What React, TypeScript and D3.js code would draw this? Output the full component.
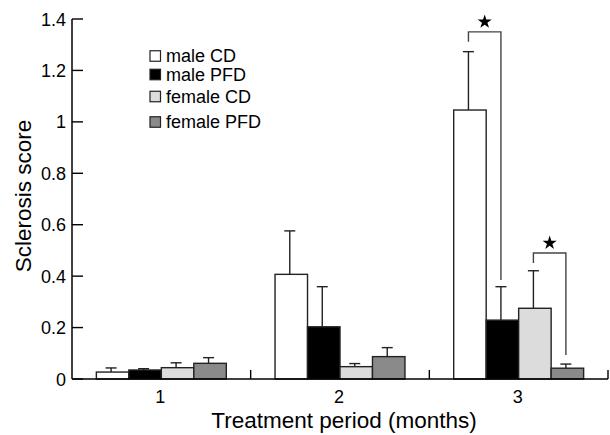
import React from "react";
import * as d3 from "d3";

const periods = ["1", "2", "3"];
const seriesNames = ["male CD", "male PFD", "female CD", "female PFD"];
const seriesColors = ["#ffffff", "#000000", "#dcdcdc", "#8a8a8a"];
// values[series][period]
const means = [
  [0.027, 0.407, 1.046],
  [0.035, 0.203, 0.229],
  [0.044, 0.048, 0.275],
  [0.061, 0.087, 0.042],
];
const errTops = [
  [0.043, 0.576, 1.273],
  [0.04, 0.359, 0.359],
  [0.063, 0.06, 0.421],
  [0.083, 0.122, 0.058],
];
const yTicks = [0, 0.2, 0.4, 0.6, 0.8, 1, 1.2, 1.4];
const yTickLabels = ["0", "0.2", "0.4", "0.6", "0.8", "1", "1.2", "1.4"];
// significance brackets: period, series a, series b, top value, left leg end, right leg end
const brackets = [
  { period: "3", a: 0, b: 1, top: 1.35, leftEnd: 1.312, rightEnd: 0.385 },
  { period: "3", a: 2, b: 3, top: 0.49, leftEnd: 0.451, rightEnd: 0.093 },
];

export default function App() {
  const W = 610;
  const H = 435;
  const x0 = 72;
  const x1 = 608;
  const yBase = 379;
  const yTop = 19;
  const font = "'Liberation Sans', Arial, Helvetica, sans-serif";

  const xg = d3.scaleBand<string>().domain(periods).range([x0, x1]).paddingInner(0).paddingOuter(0);
  const xs = d3
    .scaleBand<number>()
    .domain(d3.range(seriesNames.length))
    .range([0, xg.bandwidth()])
    .paddingInner(0)
    .paddingOuter(0.75);
  const y = d3.scaleLinear().domain([0, 1.4]).range([yBase, yTop]);

  const bw = xs.bandwidth();
  const legendY = [56, 74.5, 96.5, 122];
  const star = d3.symbol().type(d3.symbolStar).size(62)() as string;

  return (
    <svg width={W} height={H} style={{ position: "absolute", left: 0, top: 0 }} fontFamily={font}>
      <rect width={W} height={H} fill="#fff" />
      {/* bars */}
      {seriesNames.map((s, si) =>
        periods.map((p, pi) => {
          const bx = (xg(p) as number) + (xs(si) as number);
          const top = y(means[si][pi]);
          return (
            <rect
              key={s + p}
              x={bx}
              y={top}
              width={bw}
              height={yBase - top}
              fill={seriesColors[si]}
              stroke="#222"
              strokeWidth={1.4}
            />
          );
        })
      )}
      {/* error bars */}
      {seriesNames.map((s, si) =>
        periods.map((p, pi) => {
          const cx = (xg(p) as number) + (xs(si) as number) + bw / 2 - 1.5;
          const top = y(errTops[si][pi]);
          const bt = y(means[si][pi]);
          return (
            <g key={"e" + s + p} stroke="#222" strokeWidth={1.4}>
              <line x1={cx} x2={cx} y1={bt} y2={top} />
              <line x1={cx - 5.5} x2={cx + 5.5} y1={top} y2={top} />
            </g>
          );
        })
      )}
      {/* axes */}
      <line x1={x0} x2={x0} y1={yTop} y2={yBase} stroke="#000" strokeWidth={1.5} />
      <line x1={x0} x2={x1} y1={yBase} y2={yBase} stroke="#000" strokeWidth={1.5} />
      {yTicks.map((t, i) => (
        <g key={"yt" + i}>
          <line x1={x0} x2={x0 + 11} y1={y(t)} y2={y(t)} stroke="#000" strokeWidth={1.4} />
          <text x={66} y={y(t) + 6.5} textAnchor="end" fontSize={18} fill="#000">
            {yTickLabels[i]}
          </text>
        </g>
      ))}
      {periods.map((p) => {
        const right = (xg(p) as number) + xg.bandwidth();
        return (
          <g key={"xt" + p}>
            <line x1={right} x2={right} y1={yBase} y2={yBase - 9} stroke="#000" strokeWidth={1.4} />
            <text
              x={(xg(p) as number) + xg.bandwidth() / 2 - 1}
              y={403}
              textAnchor="middle"
              fontSize={18}
              fill="#000"
            >
              {p}
            </text>
          </g>
        );
      })}
      <text x={344} y={428} textAnchor="middle" fontSize={22.5} fill="#000">
        Treatment period (months)
      </text>
      <text
        transform={`translate(31,196) rotate(-90)`}
        textAnchor="middle"
        fontSize={22.5}
        fill="#000"
      >
        Sclerosis score
      </text>
      {/* brackets */}
      {brackets.map((b, i) => {
        const xa = (xg(b.period) as number) + (xs(b.a) as number) + bw / 2 - 1.5;
        const xb = (xg(b.period) as number) + (xs(b.b) as number) + bw / 2 - 1.5;
        const yt = y(b.top);
        return (
          <g key={"br" + i}>
            <path
              d={`M${xa},${y(b.leftEnd)} V${yt} H${xb} V${y(b.rightEnd)}`}
              fill="none"
              stroke="#444"
              strokeWidth={1.4}
            />
            <path d={star} transform={`translate(${(xa + xb) / 2},${yt - 10})`} fill="#000" />
          </g>
        );
      })}
      {/* legend */}
      {seriesNames.map((s, i) => (
        <g key={"lg" + i}>
          <rect
            x={150}
            y={legendY[i] - 5.25}
            width={10.5}
            height={10.5}
            fill={seriesColors[i]}
            stroke="#222"
            strokeWidth={1.2}
          />
          <text x={166} y={legendY[i] + 6} fontSize={18} fill="#000">
            {s}
          </text>
        </g>
      ))}
    </svg>
  );
}
